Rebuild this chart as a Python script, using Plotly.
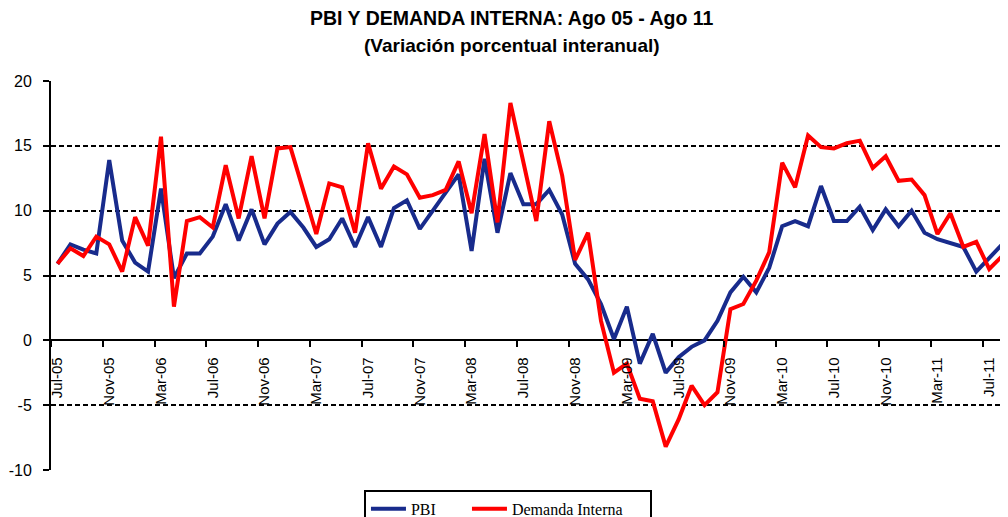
import plotly.graph_objects as go

months = [
    "Jul-05", "Aug-05", "Sep-05", "Oct-05", "Nov-05", "Dec-05",
    "Jan-06", "Feb-06", "Mar-06", "Apr-06", "May-06", "Jun-06",
    "Jul-06", "Aug-06", "Sep-06", "Oct-06", "Nov-06", "Dec-06",
    "Jan-07", "Feb-07", "Mar-07", "Apr-07", "May-07", "Jun-07",
    "Jul-07", "Aug-07", "Sep-07", "Oct-07", "Nov-07", "Dec-07",
    "Jan-08", "Feb-08", "Mar-08", "Apr-08", "May-08", "Jun-08",
    "Jul-08", "Aug-08", "Sep-08", "Oct-08", "Nov-08", "Dec-08",
    "Jan-09", "Feb-09", "Mar-09", "Apr-09", "May-09", "Jun-09",
    "Jul-09", "Aug-09", "Sep-09", "Oct-09", "Nov-09", "Dec-09",
    "Jan-10", "Feb-10", "Mar-10", "Apr-10", "May-10", "Jun-10",
    "Jul-10", "Aug-10", "Sep-10", "Oct-10", "Nov-10", "Dec-10",
    "Jan-11", "Feb-11", "Mar-11", "Apr-11", "May-11", "Jun-11",
    "Jul-11", "Aug-11",
]

pbi = [
    5.9, 7.4, 7.0, 6.7, 13.9, 7.7,
    6.0, 5.3, 11.7, 4.8, 6.7, 6.7,
    8.0, 10.5, 7.7, 10.1, 7.4, 9.0,
    9.9, 8.7, 7.2, 7.8, 9.4, 7.2,
    9.5, 7.2, 10.2, 10.8, 8.6, 10.0,
    11.3, 12.8, 6.9, 14.0, 8.3, 12.9,
    10.5, 10.5, 11.6, 9.7, 5.9, 4.7,
    2.8, 0.1, 2.6, -1.8, 0.5, -2.5,
    -1.3, -0.5, 0.0, 1.5, 3.7, 4.9,
    3.7, 5.6, 8.8, 9.2, 8.8, 11.9,
    9.2, 9.2, 10.3, 8.5, 10.1, 8.8,
    10.0, 8.3, 7.8, 7.5, 7.2, 5.3,
    6.4, 7.4,
]

demanda_interna = [
    5.9, 7.1, 6.5, 8.0, 7.4, 5.3,
    9.5, 7.3, 15.7, 2.6, 9.2, 9.5,
    8.7, 13.5, 9.4, 14.2, 9.4, 14.8,
    14.9, 11.5, 8.2, 12.1, 11.8, 8.3,
    15.2, 11.7, 13.4, 12.8, 11.0, 11.2,
    11.6, 13.8, 9.8, 15.9, 9.1, 18.3,
    13.6, 9.2, 16.9, 12.7, 6.2, 8.3,
    1.5, -2.5, -1.8, -4.5, -4.7, -8.2,
    -6.1, -3.5, -5.0, -4.0, 2.4, 2.8,
    4.6, 6.8, 13.7, 11.8, 15.8, 14.9,
    14.8, 15.2, 15.4, 13.3, 14.2, 12.3,
    12.4, 11.2, 8.2, 9.8, 7.2, 7.6,
    5.5, 6.5,
]

tick_labels = ["Jul-05", "Nov-05", "Mar-06", "Jul-06", "Nov-06", "Mar-07",
               "Jul-07", "Nov-07", "Mar-08", "Jul-08", "Nov-08", "Mar-09",
               "Jul-09", "Nov-09", "Mar-10", "Jul-10", "Nov-10", "Mar-11",
               "Jul-11"]
y_ticks = [-10, -5, 0, 5, 10, 15, 20]
y_tick_labels = ["-10", "-5", "0", "5", "10", "15", "20"]

title_1 = "PBI Y DEMANDA INTERNA: Ago 05 - Ago 11"
title_2 = "(Variación porcentual interanual)"

BLUE = "#182B8C"
RED = "#FF0000"

x_range = [-0.5, 73.45]
tick_step = 4
boundary_ticks = [i - 0.5 for i in range(0, len(months), tick_step)]

fig = go.Figure()
fig.add_trace(go.Scatter(x=months, y=pbi, mode="lines", name="PBI",
                         line=dict(color=BLUE, width=4), legendwidth=51))
fig.add_trace(go.Scatter(x=months, y=demanda_interna, mode="lines",
                         name="Demanda Interna",
                         line=dict(color=RED, width=4), legendwidth=133))
# helper (empty) trace so the boundary-tick axis is drawn
fig.add_trace(go.Scatter(x=[], y=[], xaxis="x2", yaxis="y",
                         showlegend=False, hoverinfo="skip"))

# page body has an 8px margin: figure is offset by 8px right and down
fig.update_layout(
    width=1000, height=509,
    margin=dict(l=43, r=0, t=73, b=47, autoexpand=False),
    paper_bgcolor="white", plot_bgcolor="white",
    showlegend=True,
    legend=dict(
        orientation="h", x=0.4775, xanchor="center", y=-0.051, yanchor="top",
        font=dict(family="Liberation Serif", size=16, color="black"),
        bordercolor="black", borderwidth=2, bgcolor="white",
        itemwidth=35,
    ),
    xaxis=dict(
        type="category", range=x_range, anchor="free", position=1/3,
        tickmode="array", tickvals=tick_labels, ticktext=tick_labels,
        tickangle=-90, ticks="", showgrid=False, showline=False,
        zeroline=False, automargin=False,
        tickfont=dict(family="Liberation Sans", size=15, color="black"),
        ticklabelstandoff=13,
    ),
    xaxis2=dict(
        type="linear", range=x_range, overlaying="x", anchor="free",
        position=1/3, tickmode="array", tickvals=boundary_ticks,
        ticks="outside", ticklen=6, tickwidth=2, tickcolor="black",
        showticklabels=False, showgrid=False, showline=False, zeroline=False,
        automargin=False,
    ),
    yaxis=dict(
        range=[-10, 20], tickmode="array", tickvals=y_ticks,
        ticktext=y_tick_labels,
        ticks="outside", ticklen=6, tickwidth=2, tickcolor="black",
        showline=True, linecolor="black", linewidth=2,
        showgrid=True, gridcolor="black", gridwidth=2, griddash="5px,3px",
        zeroline=True, zerolinecolor="black", zerolinewidth=2,
        tickfont=dict(family="Liberation Sans", size=16, color="black"),
        ticklabelstandoff=8, automargin=False,
    ),
    annotations=[
        dict(text="<b>" + title_1 + "</b>", xref="paper", yref="paper",
             x=0.4817, y=1.162, xanchor="center", yanchor="middle",
             showarrow=False,
             font=dict(family="Liberation Sans", size=19.5, color="black")),
        dict(text="<b>" + title_2 + "</b>", xref="paper", yref="paper",
             x=0.4817, y=1.0925, xanchor="center", yanchor="middle",
             showarrow=False,
             font=dict(family="Liberation Sans", size=19, color="black")),
    ],
)

fig.write_html("out.html")
